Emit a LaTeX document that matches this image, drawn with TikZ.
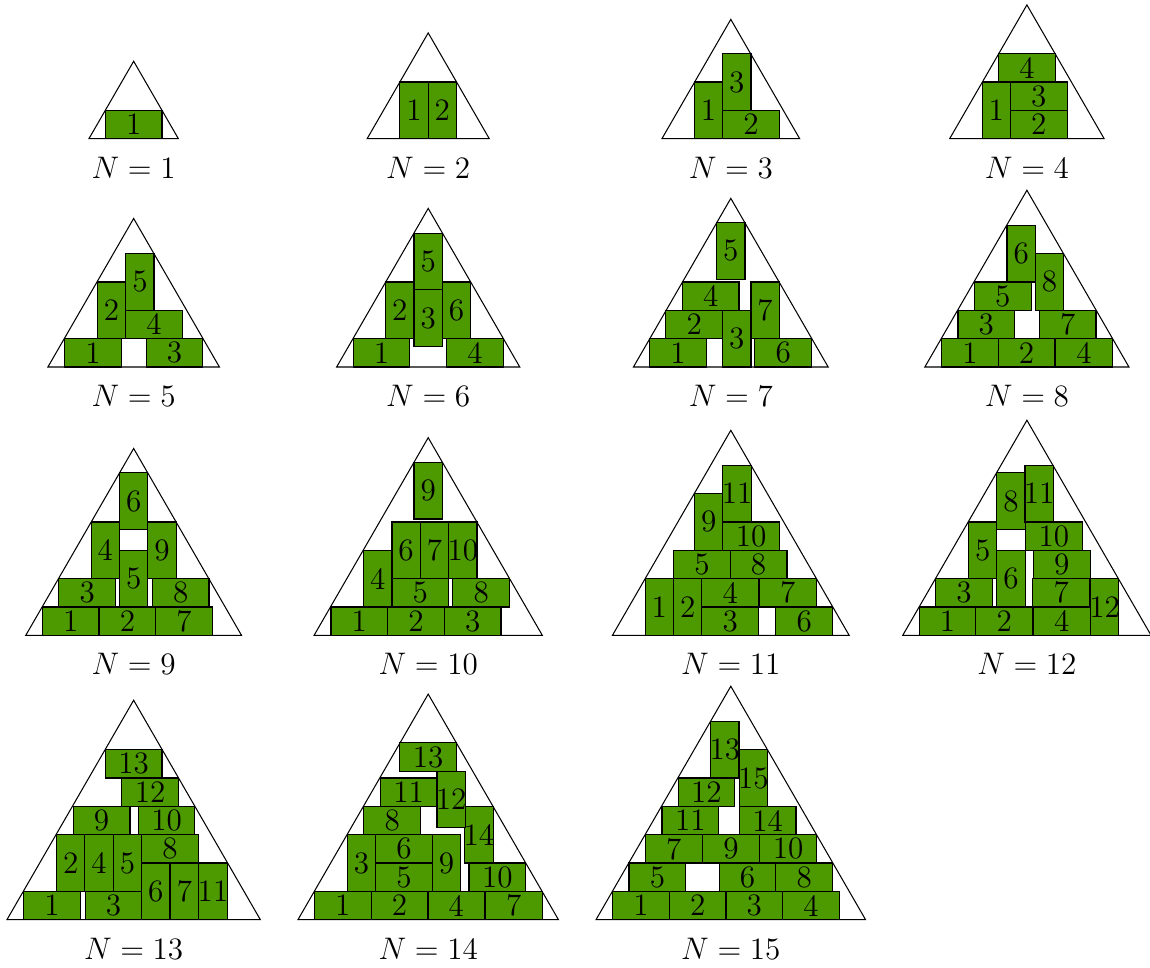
\documentclass[tikz,border=0pt]{standalone}
\definecolor{domgreen}{RGB}{77,153,0}
\tikzset{
  dom/.style={draw=black, fill=domgreen, line width=0.45pt},
  tri/.style={draw=black, line width=0.4pt, line join=miter},
  lab/.style={inner sep=0pt, font=\large},
  captext/.style={anchor=base, font=\large}
}
\newcommand{\domH}[3]{\draw[dom] (#1,#2) rectangle ++(2,1) node[midway,lab]{#3};}
\newcommand{\domV}[3]{\draw[dom] (#1,#2) rectangle ++(1,2) node[midway,lab]{#3};}
\newcommand{\tri}[1]{\draw[tri] ({-#1/2},0) -- ({#1/2},0) -- (0,{#1*0.8660254}) -- cycle;}
\newcommand{\capt}[2]{\node[captext] (#1) at (0,-1.387) {$N=#2$};}
\tikzset{panel/.style={x=10.913pt, y=10.913pt}}
\begin{document}
\begin{tikzpicture}[x=0.385pt, y=-0.385pt]
\useasboundingbox (0,0) rectangle (1150,968);
% ---------------- row 1
\begin{scope}[shift={(133.65,138.7)}, panel]
\tri{3.155}
\domH{-1}{0}{1}
\capt{c1}{1}
\end{scope}
\begin{scope}[shift={(428.2,138.7)}, panel]
\tri{4.309}
\domV{-1}{0}{1}\domV{0}{0}{2}
\capt{c2}{2}
\end{scope}
\begin{scope}[shift={(730.8,138.7)}, panel]
\tri{4.86}
\domV{-1.29}{0}{1}\domH{-0.29}{0}{2}\domV{-0.29}{1}{3}
\capt{c3}{3}
\end{scope}
\begin{scope}[shift={(1026.9,138.7)}, panel]
\tri{5.45}
\domV{-1.58}{0}{1}\domH{-0.58}{0}{2}\domH{-0.58}{1}{3}\domH{-1}{2}{4}
\capt{c4}{4}
\end{scope}
% ---------------- row 2
\begin{scope}[shift={(133.65,367)}, panel]
\tri{6.05}
\domH{-2.43}{0}{1}\domH{0.44}{0}{3}\domV{-1.28}{1}{2}\domH{-0.28}{1}{4}\domV{-0.28}{2}{5}
\capt{c5}{5}
\end{scope}
\begin{scope}[shift={(428.2,367)}, panel]
\tri{6.46}
\domH{-2.65}{0}{1}\domH{0.65}{0}{4}\domV{-1.5}{1}{2}\domV{-0.5}{0.72}{3}\domV{-0.5}{2.72}{5}\domV{0.5}{1}{6}
\capt{c6}{6}
\end{scope}
\begin{scope}[shift={(730.8,367)}, panel]
\tri{6.87}
\domH{-2.86}{0}{1}\domV{-0.29}{0}{3}\domH{0.85}{0}{6}\domH{-2.29}{1}{2}\domH{-1.71}{2}{4}\domV{0.71}{1}{7}\domV{-0.5}{3.1}{5}
\capt{c7}{7}
\end{scope}
\begin{scope}[shift={(1026.9,367)}, panel]
\tri{7.20}
\domH{-3.01}{0}{1}\domH{-1.01}{0}{2}\domH{1.01}{0}{4}\domH{-2.43}{1}{3}\domH{0.44}{1}{7}\domH{-1.85}{2}{5}\domV{-0.7}{3}{6}\domV{0.3}{2}{8}
\capt{c8}{8}
\end{scope}
% ---------------- row 3
\begin{scope}[shift={(133.65,635.3)}, panel]
\tri{7.61}
\domH{-3.22}{0}{1}\domH{-1.22}{0}{2}\domH{0.78}{0}{7}\domH{-2.64}{1}{3}\domV{-0.5}{1}{5}\domH{0.66}{1}{8}\domV{-1.5}{2}{4}\domV{0.5}{2}{9}\domV{-0.5}{3.73}{6}
\capt{c9}{9}
\end{scope}
\begin{scope}[shift={(428.2,635.3)}, panel]
\tri{8.05}
\domH{-3.43}{0}{1}\domH{-1.43}{0}{2}\domH{0.57}{0}{3}\domV{-2.28}{1}{4}\domH{-1.28}{1}{5}\domH{0.87}{1}{8}\domV{-1.28}{2}{6}\domV{-0.28}{2}{7}\domV{0.72}{2}{10}\domV{-0.5}{4.1}{9}
\capt{c10}{10}
\end{scope}
\begin{scope}[shift={(730.8,635.3)}, panel]
\tri{8.35}
\domV{-3.02}{0}{1}\domV{-2.02}{0}{2}\domH{-1.02}{0}{3}\domH{1.59}{0}{6}\domH{-1.02}{1}{4}\domH{1.01}{1}{7}\domH{-2.02}{2}{5}\domH{-0.02}{2}{8}\domV{-1.28}{3}{9}\domH{-0.28}{3}{10}\domV{-0.28}{4}{11}
\capt{c11}{11}
\end{scope}
\begin{scope}[shift={(1026.9,635.3)}, panel]
\tri{8.76}
\domH{-3.8}{0}{1}\domH{-1.8}{0}{2}\domH{0.23}{0}{4}\domV{2.24}{0}{12}\domH{-3.22}{1}{3}\domV{-1.06}{1}{6}\domH{0.21}{1}{7}\domH{0.23}{2}{9}\domV{-2.06}{2}{5}\domH{-0.05}{3}{10}\domV{-1.06}{3.73}{8}\domV{-0.07}{4}{11}
\capt{c12}{12}
\end{scope}
% ---------------- row 4
\begin{scope}[shift={(133.65,919.7)}, panel]
\tri{8.94}
\domH{-3.88}{0}{1}\domH{-1.71}{0}{3}\domV{0.28}{0}{6}\domV{1.29}{0}{7}\domV{2.30}{0}{11}\domV{-2.72}{1}{2}\domV{-1.72}{1}{4}\domV{-0.72}{1}{5}\domH{0.28}{2}{8}\domH{-2.13}{3}{9}\domH{0.16}{3}{10}\domH{-0.42}{4}{12}\domH{-1}{5}{13}
\capt{c13}{13}
\end{scope}
\begin{scope}[shift={(428.2,919.7)}, panel]
\tri{9.19}
\domH{-4.01}{0}{1}\domH{-2.01}{0}{2}\domH{-0.01}{0}{4}\domH{2.02}{0}{7}\domV{-2.85}{1}{3}\domH{-1.85}{1}{5}\domH{-1.85}{2}{6}\domV{0.15}{1}{9}\domH{1.44}{1}{10}\domV{1.29}{2}{14}\domH{-2.27}{3}{8}\domH{-1.69}{4}{11}\domV{0.31}{3.24}{12}\domH{-1}{5.24}{13}
\capt{c14}{14}
\end{scope}
\begin{scope}[shift={(730.8,919.7)}, panel]
\tri{9.51}
\domH{-4.17}{0}{1}\domH{-2.17}{0}{2}\domH{-0.17}{0}{3}\domH{1.83}{0}{4}\domH{-3.59}{1}{5}\domH{-0.41}{1}{6}\domH{1.59}{1}{8}\domH{-3.01}{2}{7}\domH{-0.99}{2}{9}\domH{1.02}{2}{10}\domH{-2.43}{3}{11}\domH{0.30}{3}{14}\domH{-1.86}{4}{12}\domV{0.30}{4}{15}\domV{-0.71}{5}{13}
\capt{c15}{15}
\end{scope}
\end{tikzpicture}
\end{document}
